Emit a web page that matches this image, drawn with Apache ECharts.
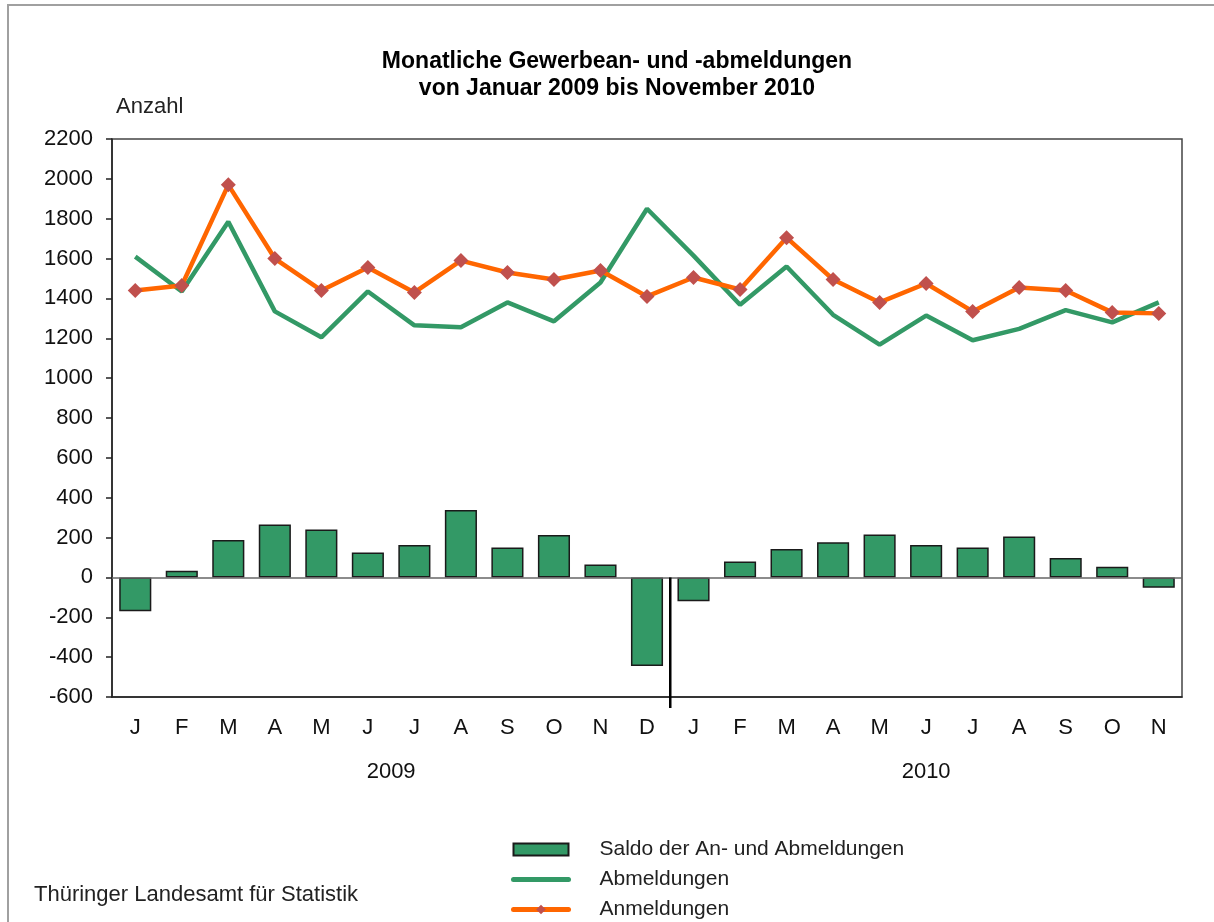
<!DOCTYPE html>
<html>
<head>
<meta charset="utf-8">
<script src="https://cdn.jsdelivr.net/npm/echarts@6/dist/echarts.min.js"></script>
<style>html,body{margin:0;padding:0;background:#fff}#c{width:1214px;height:922px}</style>
</head>
<body>
<div id="c"></div>
<script>
const months = ['J','F','M','A','M','J','J','A','S','O','N','D','J','F','M','A','M','J','J','A','S','O','N'];
const saldo = [-170, 33, 188, 266, 241, 125, 163, 338, 150, 213, 65, -444, -119, 80, 143, 176, 215, 163, 150, 206, 98, 53, -52];
const abmeldungen = [1610, 1435, 1785, 1335, 1205, 1435, 1265, 1255, 1380, 1285, 1480, 1850, 1615, 1368, 1560, 1318, 1168, 1314, 1190, 1247, 1341, 1280, 1380];
const anmeldungen = [1440, 1465, 1970, 1600, 1440, 1555, 1430, 1590, 1530, 1495, 1540, 1410, 1505, 1445, 1705, 1495, 1380, 1475, 1335, 1455, 1440, 1330, 1325];
const years = ['2009', '2010'];
const yearCenters = [6, 17.5];
const yearBreakIndex = 12;
const yTicks = {min: -600, max: 2200, interval: 200};

const FONT = '"Liberation Sans", Arial, sans-serif';
const chart = echarts.init(document.getElementById('c'));
chart.setOption({
  backgroundColor: '#fff',
  animation: false,
  textStyle: {fontFamily: FONT},
  graphic: [{
    type: 'rect', z: -10, silent: true,
    shape: {x: 8, y: 5, width: 1400, height: 1200},
    style: {fill: 'none', stroke: '#a0a0a0', lineWidth: 2}
  }],
  title: [{
    text: 'Monatliche Gewerbean- und -abmeldungen\nvon Januar 2009 bis November 2010',
    left: 612, top: 43, textAlign: 'center',
    textStyle: {fontFamily: FONT, fontSize: 23, fontWeight: 'bold', color: '#000', lineHeight: 27, align: 'center'}
  }, {
    text: 'Thüringer Landesamt für Statistik',
    left: 29, top: 879,
    textStyle: {fontFamily: FONT, fontSize: 22, fontWeight: 'normal', color: '#222'}
  }],
  legend: {
    orient: 'vertical', left: 511, top: 839, padding: 0,
    itemWidth: 55, itemHeight: 12, itemGap: 9,
    lineStyle: {width: 5, cap: 'round'},
    textStyle: {fontFamily: FONT, fontSize: 21, color: '#222', padding: [0, 0, 0, 26]},
    data: [
      {name: 'Saldo der An- und Abmeldungen', icon: 'rect'},
      {name: 'Abmeldungen', itemStyle: {opacity: 0}},
      {name: 'Anmeldungen'}
    ]
  },
  grid: {left: 112, right: 32, top: 139, bottom: 225, show: true, borderColor: '#444', borderWidth: 1.5, backgroundColor: 'transparent'},
  xAxis: [{
    type: 'category', data: months, position: 'bottom',
    axisLine: {onZero: false, lineStyle: {color: '#222', width: 1.5}},
    axisTick: {show: false},
    axisLabel: {fontFamily: FONT, fontSize: 22, color: '#111', margin: 20}
  }, {
    type: 'value', min: 0, max: months.length, interval: 0.5, position: 'bottom', offset: 47,
    axisLine: {show: false}, axisTick: {show: false}, splitLine: {show: false},
    axisLabel: {
      fontFamily: FONT, fontSize: 22, color: '#111', margin: 17, showMinLabel: true, showMaxLabel: true,
      formatter: function (v) { const k = yearCenters.indexOf(v); return k >= 0 ? years[k] : ''; }
    }
  }],
  yAxis: {
    type: 'value', min: yTicks.min, max: yTicks.max, interval: yTicks.interval,
    name: 'Anzahl', nameLocation: 'end', nameGap: 21,
    nameTextStyle: {fontFamily: FONT, fontSize: 22, color: '#222', align: 'left', padding: [0, 0, 0, 4]},
    axisLine: {show: true, lineStyle: {color: '#222', width: 1.5}},
    axisTick: {show: true, inside: false, length: 6, lineStyle: {color: '#222', width: 1.5}},
    axisLabel: {fontFamily: FONT, fontSize: 22, color: '#111', margin: 19, formatter: function (v) { return String(v); }},
    splitLine: {show: false}
  },
  series: [{
    name: 'Saldo der An- und Abmeldungen', type: 'bar', data: saldo,
    barCategoryGap: '31%',
    itemStyle: {color: '#339966', borderColor: '#1a1a1a', borderWidth: 1.5},
    markLine: {
      silent: true, symbol: 'none', label: {show: false},
      lineStyle: {color: '#666', width: 1.5, type: 'solid'},
      data: [{yAxis: 0}]
    },
    z: 2
  }, {
    name: 'Abmeldungen', type: 'line', data: abmeldungen,
    symbol: 'none', lineStyle: {color: '#339966', width: 4.5}, itemStyle: {color: '#339966'}, z: 3
  }, {
    name: 'Anmeldungen', type: 'line', data: anmeldungen,
    symbol: 'diamond', symbolSize: 15,
    lineStyle: {color: '#ff6600', width: 4.5}, itemStyle: {color: '#c0504d'}, z: 4
  }, {
    name: 'sep', type: 'custom', xAxisIndex: 1, clip: false, silent: true, z: 5,
    data: [[yearBreakIndex, 0, yTicks.min]],
    renderItem: function (params, api) {
      const p0 = api.coord([api.value(0), api.value(1)]);
      const p1 = api.coord([api.value(0), api.value(2)]);
      return {
        type: 'line',
        shape: {x1: p0[0], y1: p0[1], x2: p1[0], y2: p1[1] + 11},
        style: {stroke: '#000', lineWidth: 2.5}
      };
    }
  }]
});
</script>
</body>
</html>
